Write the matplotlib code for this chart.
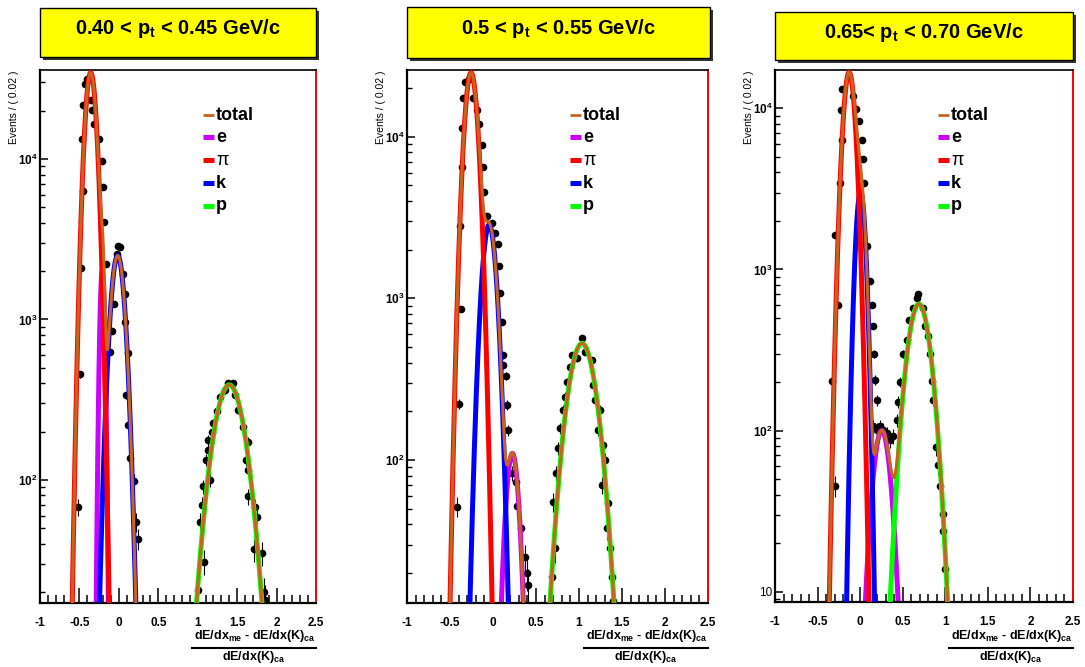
import numpy as np
import matplotlib
matplotlib.use("Agg")
import matplotlib.pyplot as plt
from matplotlib.patches import Rectangle
from matplotlib.lines import Line2D

plt.rcParams.update({
    "font.family": ["Liberation Sans", "DejaVu Sans"],
    "mathtext.fontset": "custom",
    "mathtext.rm": "Liberation Sans:bold",
    "mathtext.bf": "Liberation Sans:bold",
    "mathtext.it": "Liberation Sans:bold",
    "mathtext.sf": "Liberation Sans:bold",
    "mathtext.default": "bf",
})

W, H = 1085, 667

# ── data ─────────────────────────────────────────────────────────────────────
TITLES = ["0.40 < p$_{t}$ < 0.45 GeV/c",
          "0.5 < p$_{t}$ < 0.55 GeV/c",
          "0.65< p$_{t}$ < 0.70 GeV/c"]

Y_RANGE = [(17.1, 35850), (13.07, 25850), (8.62, 17290)]

# fitted components: (amplitude, mean, sigma)
FIT_E = [(2000, -0.21, 0.025), (110, 0.225, 0.062), (100, 0.254, 0.087)]
FIT_PI = [(34500, -0.357, 0.060), (24900, -0.255, 0.063), (16700, -0.129, 0.060)]
FIT_K = [(2500, -0.015, 0.073), (2850, -0.045, 0.068), (3030, 0.005, 0.048)]
FIT_P = [(391, 1.40, 0.166), (527, 1.035, 0.137), (610, 0.69, 0.116)]

# data points
P1_X = [-0.515, -0.493, -0.485, -0.472, -0.459, -0.459, -0.430, -0.408,
        -0.358, -0.337, -0.312, -0.248, -0.218, -0.205, -0.185, -0.168,
        -0.113, -0.083, -0.062, -0.028, -0.007, 0.014, 0.056, 0.077, 0.077,
        0.111, 0.086, 0.111, 0.141, 0.191, 0.217, 0.238,
        1.007, 1.028, 1.050, 1.070, 1.083, 1.100, 1.126, 1.134, 1.155, 1.177,
        1.197, 1.240, 1.282, 1.345, 1.387, 1.451, 1.472, 1.514, 1.578, 1.612,
        1.633, 1.641, 1.641, 1.713, 1.726, 1.747, 1.811, 1.844, 1.853]
P1_Y = [68, 455, 2085, 13370, 6340, 21700, 29300, 31550,
        23400, 20100, 16500, 13370, 9770, 6650, 4040, 2220,
        630, 849, 1245, 2550, 2880, 2810, 1930, 1433, 962,
        614, 337, 221, 137, 99, 55, 43,
        20.6, 55, 70, 91, 31, 133, 154, 177, 100, 200,
        225, 267, 330, 364, 400, 400, 339, 273, 215, 133,
        79, 173, 115, 37, 68, 59, 35, 20, 17.9]

P2_X = [-0.422, -0.395, -0.376, -0.384, -0.357, -0.357, -0.345, -0.326, -0.275,
        -0.236, -0.190, -0.159, -0.132, -0.112, -0.101, -0.073,
        -0.016, 0.023, 0.054, 0.070, 0.081, 0.101, 0.112, 0.120, 0.151, 0.159,
        0.178, 0.217, 0.267, 0.283, 0.322, 0.372, 0.399, 0.411,
        0.683, 0.702, 0.721, 0.733, 0.759, 0.779, 0.817, 0.837, 0.857, 0.895,
        0.915, 0.973, 1.031, 1.070, 1.147, 1.166, 1.186, 1.225, 1.244, 1.264,
        1.283, 1.302, 1.322, 1.341, 1.360, 1.380, 1.399]
P2_Y = [51.6, 223, 855, 2820, 6450, 11380, 17300, 21700, 22700,
        17300, 14600, 11960, 8890, 6450, 4560, 3220,
        2920, 2520, 2170, 1590, 1085, 713, 446, 387, 331, 219,
        153, 83, 73, 52, 38, 25, 20, 17,
        19, 55, 28.5, 83, 118, 157, 204, 247, 306, 378,
        447, 426, 566, 468, 416, 291, 236, 153, 204, 70,
        124, 100, 38, 54, 28.5, 19, 13.5]

P3_X = [-0.334, -0.295, -0.295, -0.256, -0.236, -0.216, -0.228, -0.216,
        -0.080, -0.048, -0.009, 0.019, 0.031, 0.046, 0.085, 0.116, 0.136,
        0.148, 0.163, 0.175, 0.195,
        0.155, 0.195, 0.234, 0.273, 0.312, 0.351, 0.390, 0.430, 0.449, 0.469,
        0.508, 0.547, 0.578, 0.625, 0.665, 0.684, 0.743, 0.763, 0.802, 0.821,
        0.841, 0.853, 0.892, 0.919, 0.939, 0.971, 0.978, 0.998]
P3_Y = [202, 45.5, 1630, 603, 3460, 6380, 9740, 13100,
        11870, 9970, 8390, 6380, 4860, 3430, 1400, 853, 603,
        447, 300, 207, 154,
        106, 101, 106, 101, 96, 87, 92, 116, 151, 200,
        300, 367, 482, 574, 666, 700, 574, 447, 385, 300,
        202, 154, 78.5, 61, 45.5, 30.5, 23.8, 13.8]

DATA_X = [P1_X, P2_X, P3_X]
DATA_Y = [P1_Y, P2_Y, P3_Y]

X_TICKS = [-1, -0.5, 0, 0.5, 1, 1.5, 2, 2.5]
X_TICK_LABELS = ["-1", "-0.5", "0", "0.5", "1", "1.5", "2", "2.5"]

LEGEND_LABELS = ["total", "e", "\u03c0", "k", "p"]

# ── layout (pixels) ──────────────────────────────────────────────────────────
AX_BOX = [(40, 70, 316, 603), (407, 70, 708, 603), (775, 70, 1073, 602)]
TITLE_BOX = [(40, 8, 316, 57), (407, 7, 710, 58), (775, 12, 1073, 60)]
TITLE_Y = [29, 29, 33]
LEG_X = [203, 570, 938]
LEG_Y = [115, 137, 160, 183, 206]

C_TOTAL = "#c8641e"
C_E = "#cc00ff"
C_PI = "#ff0000"
C_K = "#0000ff"
C_P = "#00ff00"


def fx(px):
    return px / W


def fy(py):
    return 1 - py / H


def gauss(x, amp, mu, sig):
    return amp * np.exp(-0.5 * ((x - mu) / sig) ** 2)


fig = plt.figure(figsize=(W / 100, H / 100), dpi=100)
xs = np.linspace(-1, 2.5, 5000)

for i in range(3):
    x0, y0, x1, y1 = AX_BOX[i]
    ax = fig.add_axes([fx(x0), fy(y1), (x1 - x0) / W, (y1 - y0) / H])
    ymin, ymax = Y_RANGE[i]

    ax.errorbar(DATA_X[i], DATA_Y[i], yerr=np.sqrt(DATA_Y[i]), fmt="o",
                color="black", ms=4.5, elinewidth=0.8, capsize=0, zorder=1)

    comps = [(FIT_E[i], C_E, 2), (FIT_K[i], C_K, 3), (FIT_PI[i], C_PI, 4),
             (FIT_P[i], C_P, 3)]
    total = np.zeros_like(xs)
    for (amp, mu, sig), col, z in comps:
        yv = gauss(xs, amp, mu, sig)
        total += yv
        yv = np.where(yv > ymin * 0.3, yv, np.nan)
        ax.plot(xs, yv, color=col, lw=3.6, zorder=z, solid_capstyle="butt")
    tv = np.where(total > ymin * 0.3, total, np.nan)
    ax.plot(xs, tv, color=C_TOTAL, lw=2.2, zorder=6)

    ax.set_yscale("log")
    ax.set_xlim(-1, 2.5)
    ax.set_ylim(ymin, ymax)
    ax.axhline(ymin, color="red", lw=1.0, zorder=0.5)

    ax.set_xticks(X_TICKS)
    ax.set_xticklabels(X_TICK_LABELS, fontsize=8.5, fontweight="bold")
    ax.set_xticks(np.arange(-1, 2.5001, 0.1), minor=True)
    ax.tick_params(axis="x", which="major", direction="in", length=11,
                   width=1.1, pad=10, bottom=True, top=False)
    ax.tick_params(axis="x", which="minor", direction="in", length=5.5,
                   width=1.1, bottom=True, top=False)
    ax.tick_params(axis="y", which="major", direction="in", length=6,
                   width=1.1, left=True, right=False, pad=2, labelsize=8.5)
    ax.tick_params(axis="y", which="minor", direction="in", length=3.5,
                   width=1.0, left=True, right=False, labelleft=False)
    ax.yaxis.set_major_formatter(plt.FuncFormatter(
        lambda v, _: "10" if abs(v - 10) < 1e-6 else f"$10^{{{int(round(np.log10(v)))}}}$"))

    for side in ["left", "bottom", "top"]:
        ax.spines[side].set_color("black")
    ax.spines["left"].set_linewidth(1.6)
    ax.spines["bottom"].set_linewidth(1.6)
    ax.spines["top"].set_linewidth(1.2)
    ax.spines["right"].set_color("red")
    ax.spines["right"].set_linewidth(1.4)

    # y label
    fig.text(fx(x0 - 26), fy(y0), "Events / ( 0.02 )", rotation=90,
             ha="center", va="top", fontsize=7.5)

    # x label as fraction
    fig.text(fx(x1), fy(636), r"$dE/dx_{me}$ - $dE/dx(K)_{ca}$",
             ha="right", va="center", fontsize=9, fontweight="bold")
    fig.add_artist(Line2D([fx(x1 - 124), fx(x1)], [fy(648), fy(648)],
                          transform=fig.transFigure, color="black", lw=1.5))
    fig.text(fx(x1 - 62), fy(657), r"$dE/dx(K)_{ca}$",
             ha="center", va="center", fontsize=9, fontweight="bold")

    # title box with shadow
    bx0, by0, bx1, by1 = TITLE_BOX[i]
    fig.add_artist(Rectangle((fx(bx0 + 3), fy(by1 + 3)), (bx1 - bx0) / W,
                             (by1 - by0) / H, transform=fig.transFigure,
                             facecolor="#333333", edgecolor="none"))
    fig.add_artist(Rectangle((fx(bx0), fy(by1)), (bx1 - bx0) / W,
                             (by1 - by0) / H, transform=fig.transFigure,
                             facecolor="#ffff00", edgecolor="black", lw=1.0))
    fig.text(fx((bx0 + bx1) / 2), fy(TITLE_Y[i]), TITLES[i], ha="center",
             va="center", fontsize=14.5, fontweight="bold")

    # legend
    leg_cols = [C_TOTAL, C_E, C_PI, C_K, C_P]
    for j, (lab, col) in enumerate(zip(LEGEND_LABELS, leg_cols)):
        ly = LEG_Y[j]
        fig.add_artist(Line2D([fx(LEG_X[i]), fx(LEG_X[i] + 11)], [fy(ly), fy(ly)],
                              transform=fig.transFigure, color=col,
                              lw=2.0 if j == 0 else 3.6, solid_capstyle="butt"))
        fig.text(fx(LEG_X[i] + 13), fy(ly), lab, ha="left", va="center",
                 fontsize=13, fontweight="normal" if lab == "\u03c0" else "bold")

fig.savefig("out.png", dpi=100)
